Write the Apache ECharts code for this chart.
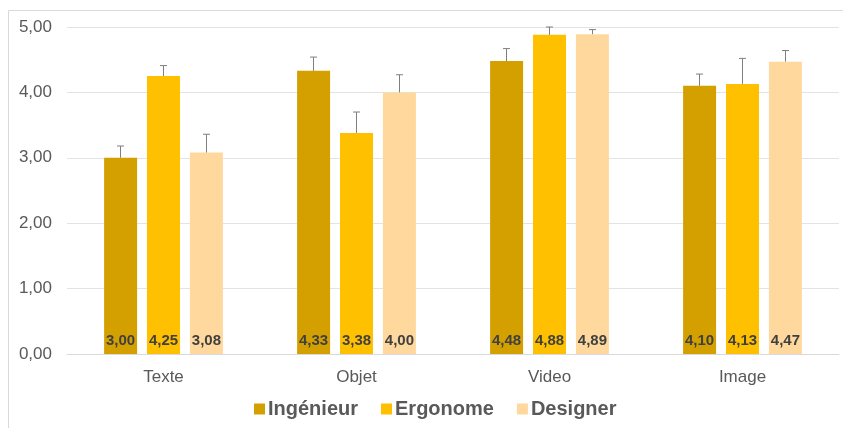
<!DOCTYPE html>
<html>
<head>
<meta charset="utf-8">
<script src="https://cdn.jsdelivr.net/npm/echarts@6/dist/echarts.min.js"></script>
<style>
    html, body { margin: 0; padding: 0; background: #fff; }
    #chart { width: 843px; height: 428px; }
</style>
</head>
<body>
<div id="chart"></div>
<script>
    // catégories et séries
    const categories = ["Texte", "Objet", "Video", "Image"];
    const seriesNames = ["Ingénieur", "Ergonome", "Designer"];
    const ingenieur = [3.00, 4.33, 4.48, 4.10];
    const ergonome = [4.25, 3.38, 4.88, 4.13];
    const designer = [3.08, 4.00, 4.89, 4.47];
    // barres d'erreur (vers le haut seulement)
    const errIngenieur = [0.18, 0.21, 0.19, 0.18];
    const errErgonome = [0.16, 0.32, 0.12, 0.39];
    const errDesigner = [0.28, 0.27, 0.07, 0.17];
    const yTicks = [0, 1, 2, 3, 4, 5];

    const colors = ["#D4A000", "#FFC000", "#FFD89E"];
    const values = [ingenieur, ergonome, designer];
    const errors = [errIngenieur, errErgonome, errDesigner];

    const BAR_W = 33;
    const BAR_STEP = 43; // largeur + écart

    const fmt = v => v.toFixed(2).replace(".", ",");

    const chart = echarts.init(document.getElementById("chart"));

    const barSeries = seriesNames.map((name, k) => ({
        name: name,
        type: "bar",
        barWidth: BAR_W,
        barGap: "30%",
        itemStyle: { color: colors[k] },
        label: {
            show: true,
            position: "insideBottom",
            distance: 6,
            color: "#404040",
            fontWeight: "bold",
            fontSize: 15,
            fontFamily: "Liberation Sans, Arial, sans-serif",
            formatter: p => fmt(p.value)
        },
        data: values[k]
    }));

    const errSeries = seriesNames.map((name, k) => ({
        name: "err-" + name,
        type: "custom",
        z: 5,
        silent: true,
        renderItem: function (params, api) {
            const base = api.coord([api.value(0), api.value(1)]);
            const top = api.coord([api.value(0), api.value(1) + api.value(2)]);
            const x = base[0] + (k - 1) * BAR_STEP;
            const style = { stroke: "#7F7F7F", lineWidth: 1 };
            return {
                type: "group",
                children: [
                    { type: "line", shape: { x1: x, y1: base[1], x2: x, y2: top[1] }, style: style },
                    { type: "line", shape: { x1: x - 3.5, y1: top[1], x2: x + 3.5, y2: top[1] }, style: style }
                ]
            };
        },
        data: categories.map((c, i) => [i, values[k][i], errors[k][i]])
    }));

    const option = {
        animation: false,
        graphic: [{
            type: "rect",
            shape: { x: 8.5, y: 10.5, width: 900, height: 500 },
            style: { fill: "none", stroke: "#D9D9D9", lineWidth: 1 },
            z: -1
        }],
        legend: {
            data: seriesNames,
            left: 249,
            top: 394,
            icon: "rect",
            itemWidth: 11,
            itemHeight: 11,
            itemGap: 23,
            textStyle: {
                color: "#595959",
                fontSize: 20,
                fontWeight: "bold",
                fontFamily: "Liberation Sans, Arial, sans-serif",
                padding: [0, 0, 0, -2]
            }
        },
        grid: {
            left: 67,
            right: 4,
            top: 27,
            bottom: 74
        },
        xAxis: {
            type: "category",
            data: categories,
            axisTick: { show: false },
            axisLine: { lineStyle: { color: "#D9D9D9" } },
            axisLabel: {
                color: "#595959",
                fontSize: 17,
                margin: 15,
                fontFamily: "Liberation Sans, Arial, sans-serif"
            }
        },
        yAxis: {
            type: "value",
            min: yTicks[0],
            max: yTicks[yTicks.length - 1],
            interval: 1,
            axisLine: { show: false },
            axisTick: { show: false },
            splitLine: { lineStyle: { color: "#E3E3E3" } },
            axisLabel: {
                color: "#595959",
                fontSize: 17,
                margin: 15,
                fontFamily: "Liberation Sans, Arial, sans-serif",
                formatter: v => fmt(v)
            }
        },
        series: barSeries.concat(errSeries)
    };

    chart.setOption(option);
</script>
</body>
</html>
